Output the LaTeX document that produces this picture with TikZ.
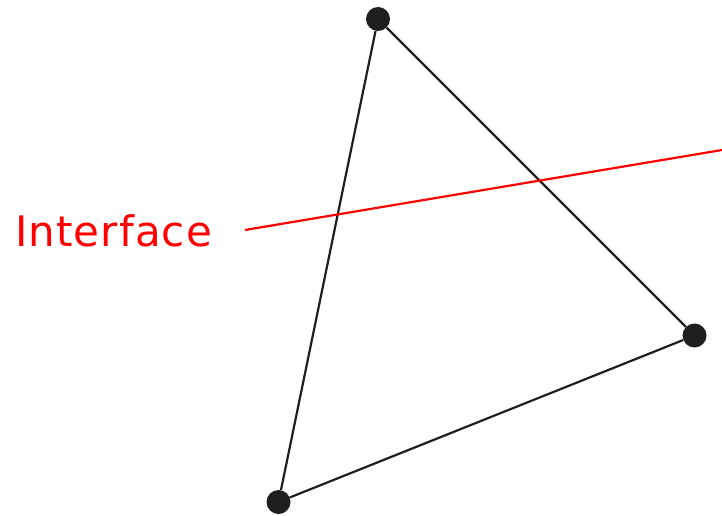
\documentclass[tikz,border=0pt]{standalone}
\usepackage{fontspec}
\newfontfamily\labfont[LetterSpace=2.6]{DejaVu Sans}
\begin{document}
\begin{tikzpicture}[x=1pt,y=-1pt,
  vertex/.style={circle,fill=black!88,inner sep=0pt,minimum size=24pt},
  edge/.style={draw=black!88,line width=2.2pt},
  iface/.style={draw=red,line width=2.2pt},
  lbl/.style={text=red,font=\labfont\fontsize{42}{50}\selectfont,inner sep=0pt,anchor=base west}]
\useasboundingbox (0,0) rectangle (722,516);
\node[vertex] (t) at (378,19) {};
\node[vertex] (r) at (694.5,335.5) {};
\node[vertex] (b) at (278.5,502) {};
\draw[edge] (t) -- (r) -- (b) -- (t);
\coordinate (i1) at (245,230);
\coordinate (i2) at (722,150);
\draw[iface] (i1) -- (i2);
\node[lbl] (lab) at (15,246) {Interface};
\end{tikzpicture}
\end{document}
